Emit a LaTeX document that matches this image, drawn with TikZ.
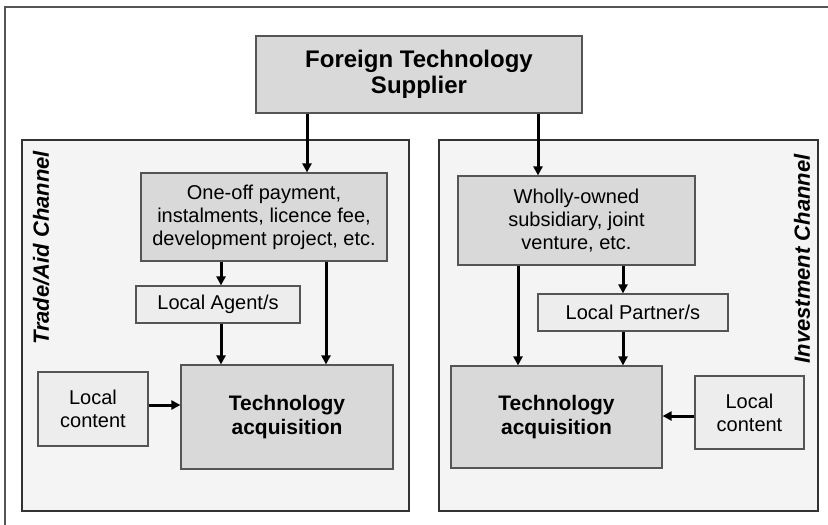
\documentclass[tikz,border=0pt]{standalone}
\usepackage{fontspec}
\setmainfont{Liberation Sans}
\usetikzlibrary{arrows.meta}
\definecolor{boxgray}{HTML}{D9D9D9}
\definecolor{chgray}{HTML}{F4F4F4}
\definecolor{localgray}{HTML}{EDEDED}
\definecolor{edgegray}{HTML}{555555}
\tikzset{
  box/.style={draw=edgegray, line width=1.2pt, inner sep=0pt, align=center, font=\fontsize{20}{23}\selectfont},
  mainbox/.style={box, fill=boxgray},
  localbox/.style={box, fill=localgray},
  techbox/.style={box, fill=boxgray, font=\bfseries\fontsize{21}{24}\selectfont},
  chbox/.style={draw=black!80, line width=1.2pt, fill=chgray, inner sep=0pt},
  chlabel/.style={font=\bfseries\itshape\fontsize{22}{24}\selectfont, rotate=90},
  flow/.style={line width=3pt, -{Triangle[length=9pt,width=9pt]}}
}
\begin{document}
\begin{tikzpicture}[x=1pt,y=-1pt]
\useasboundingbox (0,0) rectangle (828,525);
\fill[white] (0,0) rectangle (828,525);
\draw[edgegray, line width=1.2pt] (5,7) rectangle (840,540);
% channels
\node[chbox, minimum width=387pt, minimum height=371pt] (leftch) at (215.5,325.5) {};
\node[chbox, minimum width=379pt, minimum height=371pt] (rightch) at (628.5,325.5) {};
\node[chlabel] (leftlab) at (41,248) {Trade/Aid Channel};
\node[chlabel] (rightlab) at (802,259) {Investment Channel};
% top
\node[mainbox, minimum width=326pt, minimum height=77pt, font=\bfseries\fontsize{24}{26}\selectfont] (sup) at (419,74.5) {Foreign Technology\\Supplier};
% left side
\node[mainbox, minimum width=246pt, minimum height=88pt] (oneoff) at (264,217) {One-off payment,\\instalments, licence fee,\\development project, etc.};
\node[localbox, minimum width=164pt, minimum height=37pt] (agent) at (218,304.5) {Local Agent/s};
\node[localbox, minimum width=110pt, minimum height=74pt] (lcL) at (93,409) {Local\\content};
\node[techbox, minimum width=212pt, minimum height=104pt] (techL) at (287,417) {Technology\\acquisition};
% right side
\node[mainbox, minimum width=237pt, minimum height=89pt] (wholly) at (576.5,220.5) {Wholly-owned\\subsidiary, joint\\venture, etc.};
\node[localbox, minimum width=190pt, minimum height=37pt] (partner) at (633,312.5) {Local Partner/s};
\node[techbox, minimum width=211pt, minimum height=102pt] (techR) at (556.5,417) {Technology\\acquisition};
\node[localbox, minimum width=109pt, minimum height=73pt] (lcR) at (749.5,412.5) {Local\\content};
% arrow anchor points
\coordinate (a1) at (307,0);
\coordinate (a2) at (538,0);
\coordinate (a3) at (221,0);
\coordinate (a5) at (326,0);
\coordinate (a6) at (0,405);
\coordinate (a7) at (518,0);
\coordinate (a8) at (623,0);
\coordinate (a10) at (0,416);
% arrows
\draw[flow] (sup.south -| a1) -- (oneoff.north -| a1);
\draw[flow] (sup.south -| a2) -- (wholly.north -| a2);
\draw[flow] (oneoff.south -| a3) -- (agent.north -| a3);
\draw[flow] (agent.south -| a3) -- (techL.north -| a3);
\draw[flow] (oneoff.south -| a5) -- (techL.north -| a5);
\draw[flow] (lcL.east |- a6) -- (techL.west |- a6);
\draw[flow] (wholly.south -| a7) -- (techR.north -| a7);
\draw[flow] (wholly.south -| a8) -- (partner.north -| a8);
\draw[flow] (partner.south -| a8) -- (techR.north -| a8);
\draw[flow] (lcR.west |- a10) -- (techR.east |- a10);
\end{tikzpicture}
\end{document}
